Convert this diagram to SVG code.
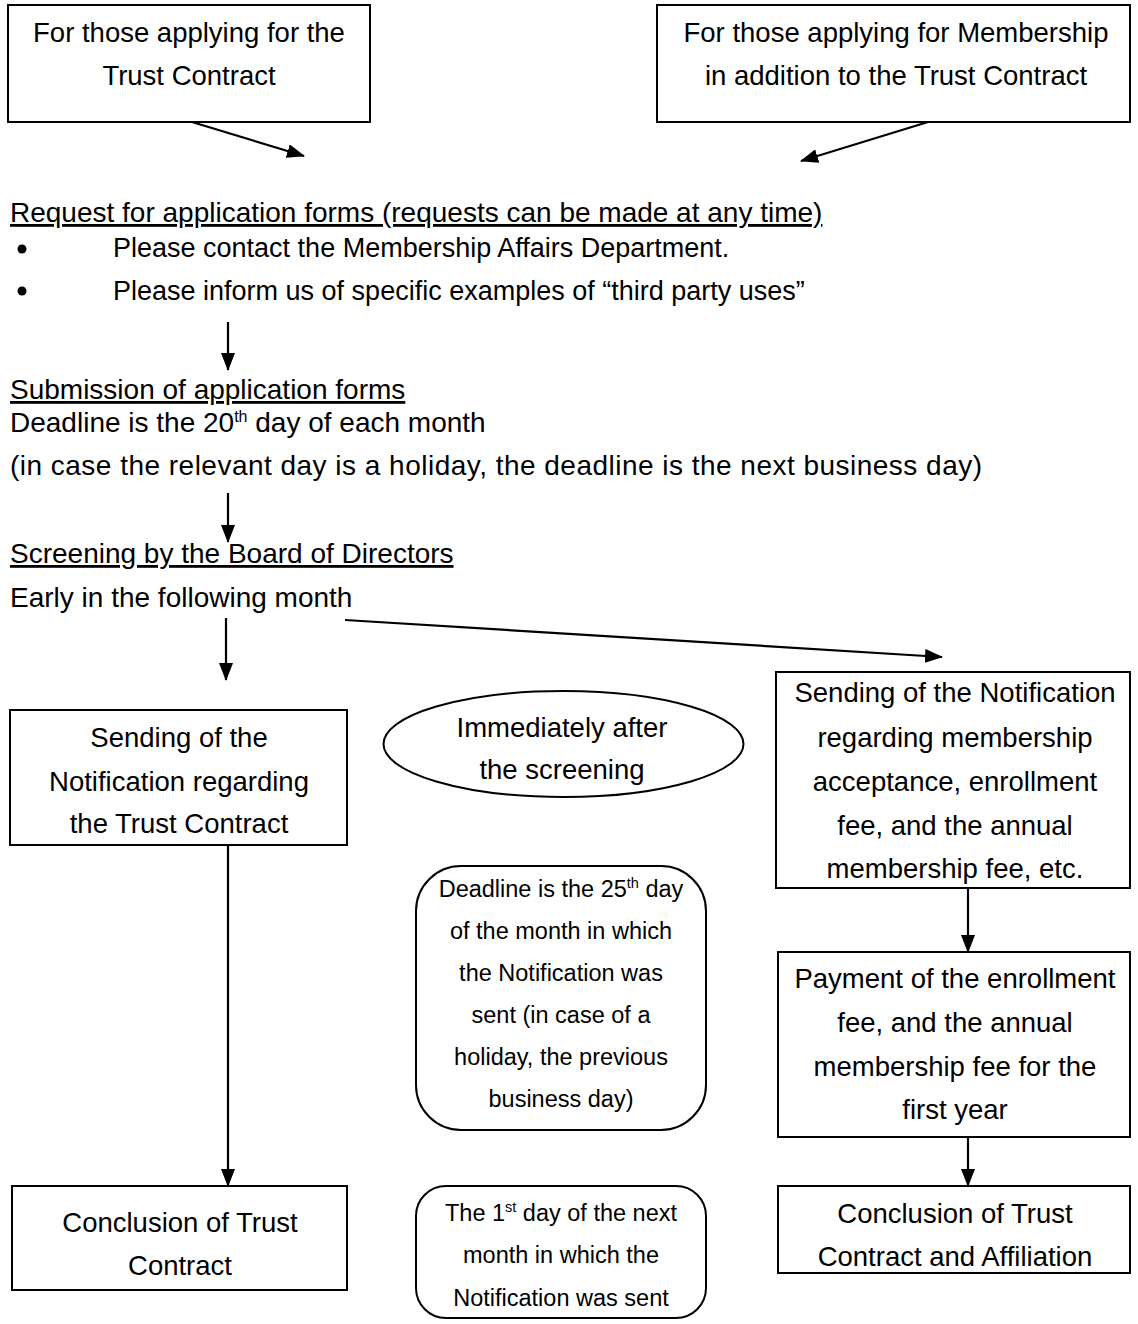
<svg xmlns="http://www.w3.org/2000/svg" width="1138" height="1324" viewBox="0 0 1138 1324">
<defs>
<style>
text{font-family:"Liberation Sans",Arial,sans-serif;fill:#000}
.t{font-size:28px}
.p{font-size:27px}
.b{font-size:27.5px;text-anchor:middle}
.s{font-size:23.5px;text-anchor:middle}
.u{text-decoration:underline}
.box{fill:#fff;stroke:#000;stroke-width:2}
.con{stroke:#000;stroke-width:2.2;fill:none;marker-end:url(#ah)}
</style>
<marker id="ah" markerWidth="18" markerHeight="14" refX="17" refY="7" orient="auto" markerUnits="userSpaceOnUse">
<path d="M0,0 L18,7 L0,14 Z" fill="#000"/>
</marker>
</defs>
<rect width="1138" height="1324" fill="#fff"/>

<g id="connectors">
<line class="con" x1="192" y1="122" x2="304" y2="156"/>
<line class="con" x1="928" y1="122" x2="801" y2="161"/>
<line class="con" x1="228" y1="322" x2="228" y2="370"/>
<line class="con" x1="228" y1="493" x2="228" y2="542"/>
<line class="con" x1="226" y1="618" x2="226" y2="680"/>
<line class="con" x1="345" y1="620" x2="942" y2="657"/>
<line class="con" x1="228" y1="845" x2="228" y2="1186"/>
<line class="con" x1="968" y1="888" x2="968" y2="952"/>
<line class="con" x1="968" y1="1137" x2="968" y2="1186"/>
</g>

<g id="start-trust">
<rect class="box" x="8" y="5" width="362" height="117"/>
<text class="b" x="189" y="42">For those applying for the</text>
<text class="b" x="189" y="85">Trust Contract</text>
</g>

<g id="start-membership">
<rect class="box" x="657" y="5" width="473" height="117"/>
<text class="b" x="896" y="42">For those applying for Membership</text>
<text class="b" x="896" y="85">in addition to the Trust Contract</text>
</g>

<g id="request">
<text class="t u" x="10" y="222">Request for application forms (requests can be made at any time)</text>
<circle cx="22" cy="249" r="4.5"/>
<text class="p" x="113" y="257">Please contact the Membership Affairs Department.</text>
<circle cx="22" cy="291" r="4.5"/>
<text class="p" x="113" y="300">Please inform us of specific examples of “third party uses”</text>
</g>

<g id="submission">
<text class="t u" x="10" y="399">Submission of application forms</text>
<text class="t" x="10" y="432">Deadline is the 20<tspan font-size="16" dy="-10">th</tspan><tspan dy="10"> day of each month</tspan></text>
<text class="t" x="10" y="475" textLength="972" lengthAdjust="spacing">(in case the relevant day is a holiday, the deadline is the next business day)</text>
</g>

<g id="screening">
<text class="t u" x="10" y="563">Screening by the Board of Directors</text>
<text class="t" x="10" y="607">Early in the following month</text>
</g>

<g id="notify-trust">
<rect class="box" x="10" y="710" width="337" height="135"/>
<text class="b" x="179" y="747">Sending of the</text>
<text class="b" x="179" y="791">Notification regarding</text>
<text class="b" x="179" y="833">the Trust Contract</text>
</g>

<g id="immediately">
<ellipse class="box" cx="563.5" cy="744" rx="180" ry="53" stroke-width="1.5"/>
<text class="b" x="562" y="737">Immediately after</text>
<text class="b" x="562" y="779">the screening</text>
</g>

<g id="notify-member">
<rect class="box" x="776" y="672" width="354" height="216"/>
<text class="b" x="955" y="702">Sending of the Notification</text>
<text class="b" x="955" y="747">regarding membership</text>
<text class="b" x="955" y="791">acceptance, enrollment</text>
<text class="b" x="955" y="835">fee, and the annual</text>
<text class="b" x="955" y="878">membership fee, etc.</text>
</g>

<g id="deadline25">
<rect class="box" x="416" y="866" width="290" height="264" rx="45" ry="45" stroke-width="1.5"/>
<text class="s" x="561" y="897">Deadline is the 25<tspan font-size="14.5" dy="-9">th</tspan><tspan dy="9"> day</tspan></text>
<text class="s" x="561" y="939">of the month in which</text>
<text class="s" x="561" y="981">the Notification was</text>
<text class="s" x="561" y="1023">sent (in case of a</text>
<text class="s" x="561" y="1065">holiday, the previous</text>
<text class="s" x="561" y="1107">business day)</text>
</g>

<g id="payment">
<rect class="box" x="778" y="952" width="352" height="185"/>
<text class="b" x="955" y="988">Payment of the enrollment</text>
<text class="b" x="955" y="1032">fee, and the annual</text>
<text class="b" x="955" y="1076">membership fee for the</text>
<text class="b" x="955" y="1119">first year</text>
</g>

<g id="conclusion-trust">
<rect class="box" x="12" y="1186" width="335" height="104"/>
<text class="b" x="180" y="1232">Conclusion of Trust</text>
<text class="b" x="180" y="1275">Contract</text>
</g>

<g id="first-day">
<rect class="box" x="416" y="1186" width="290" height="132" rx="30" ry="30" stroke-width="1.5"/>
<text class="s" x="561" y="1221">The 1<tspan font-size="14.5" dy="-9">st</tspan><tspan dy="9"> day of the next</tspan></text>
<text class="s" x="561" y="1263">month in which the</text>
<text class="s" x="561" y="1306">Notification was sent</text>
</g>

<g id="conclusion-affiliation">
<rect class="box" x="778" y="1186" width="352" height="87"/>
<text class="b" x="955" y="1223">Conclusion of Trust</text>
<text class="b" x="955" y="1266">Contract and Affiliation</text>
</g>
</svg>
